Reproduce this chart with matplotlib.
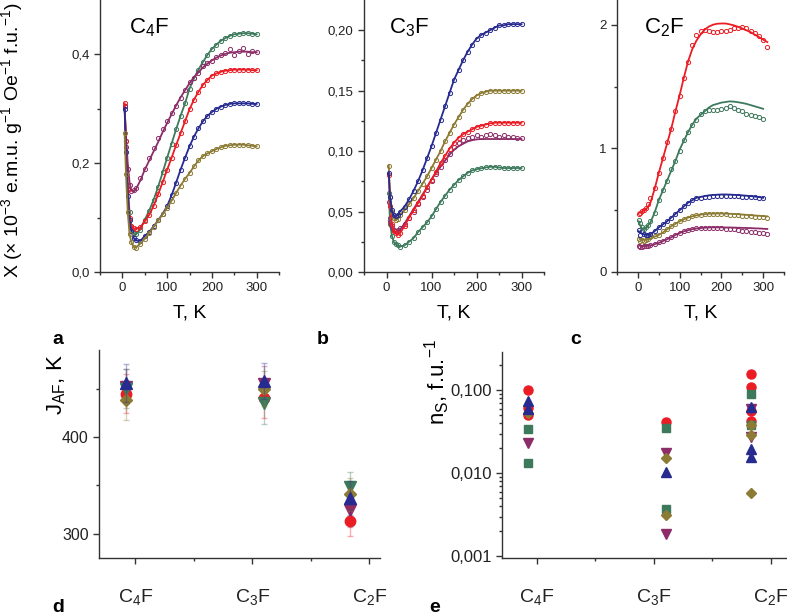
import numpy as np
import matplotlib
matplotlib.use("Agg")
import matplotlib.pyplot as plt
from matplotlib.ticker import LogLocator, NullFormatter

plt.rcParams['font.family'] = ['Liberation Sans', 'DejaVu Sans']
plt.rcParams['mathtext.fontset'] = 'custom'
plt.rcParams['mathtext.rm'] = 'Liberation Sans'
plt.rcParams['mathtext.it'] = 'Liberation Sans:italic'
plt.rcParams['mathtext.bf'] = 'Liberation Sans:bold'

# temperature grids (K)
T_ab = [5, 8, 12, 16, 20, 25, 30, 40, 50, 60, 70, 80, 90, 100, 110, 120, 130, 140,
        150, 160, 170, 180, 190, 200, 210, 220, 230, 240, 250, 260, 270, 280, 290, 300]
T_c = [2, 5, 10, 15, 20, 25, 30, 40, 50, 60, 70, 80, 90, 100, 110, 120, 130, 140,
       150, 160, 170, 180, 190, 200, 210, 220, 230, 240, 250, 260, 270, 280, 290, 300, 310]

# panel a: C4F
a_green = [0.305, 0.24, 0.16, 0.11, 0.085, 0.072, 0.069, 0.078, 0.096, 0.113, 0.133, 0.157, 0.183, 0.210,
           0.236, 0.262, 0.287, 0.310, 0.337, 0.356, 0.372, 0.386, 0.399, 0.410, 0.418, 0.425, 0.430,
           0.434, 0.437, 0.438, 0.439, 0.439, 0.438, 0.437]
a_purple = [0.300, 0.250, 0.200, 0.165, 0.150, 0.147, 0.152, 0.168, 0.188, 0.205, 0.222, 0.239, 0.257,
            0.274, 0.290, 0.306, 0.321, 0.334, 0.347, 0.358, 0.367, 0.376, 0.383, 0.389, 0.394, 0.398,
            0.401, 0.403, 0.404, 0.405, 0.405, 0.405, 0.404, 0.404]
a_purple_pts = [0.305, 0.230, 0.190, 0.160, 0.148, 0.150, 0.155, 0.172, 0.190, 0.210, 0.228, 0.247, 0.262,
                0.278, 0.292, 0.305, 0.320, 0.335, 0.350, 0.357, 0.365, 0.378, 0.384, 0.388, 0.396, 0.398,
                0.403, 0.410, 0.398, 0.407, 0.411, 0.400, 0.406, 0.404]
a_red = [0.310, 0.240, 0.150, 0.100, 0.085, 0.080, 0.079, 0.082, 0.093, 0.105, 0.122, 0.143, 0.165, 0.188,
         0.210, 0.233, 0.255, 0.277, 0.299, 0.317, 0.331, 0.344, 0.353, 0.361, 0.365, 0.368, 0.370,
         0.371, 0.372, 0.372, 0.372, 0.372, 0.371, 0.371]
a_blue = [0.300, 0.220, 0.140, 0.095, 0.075, 0.063, 0.058, 0.057, 0.066, 0.074, 0.084, 0.095, 0.107, 0.121,
          0.141, 0.164, 0.188, 0.210, 0.231, 0.249, 0.264, 0.277, 0.287, 0.294, 0.300, 0.304, 0.307,
          0.309, 0.310, 0.310, 0.310, 0.310, 0.309, 0.309]
a_olive = [0.255, 0.180, 0.110, 0.070, 0.055, 0.046, 0.045, 0.052, 0.061, 0.072, 0.083, 0.095, 0.106, 0.118,
           0.131, 0.145, 0.159, 0.171, 0.182, 0.194, 0.205, 0.213, 0.218, 0.222, 0.226, 0.229, 0.232,
           0.233, 0.234, 0.234, 0.234, 0.233, 0.232, 0.231]

# panel b: C3F
b_blue = [0.082, 0.062, 0.051, 0.047, 0.046, 0.047, 0.050, 0.054, 0.060, 0.067, 0.075, 0.084, 0.094, 0.104,
          0.115, 0.126, 0.137, 0.148, 0.159, 0.167, 0.175, 0.182, 0.188, 0.193, 0.196, 0.198, 0.200,
          0.202, 0.204, 0.204, 0.205, 0.205, 0.205, 0.205]
b_olive = [0.088, 0.062, 0.050, 0.045, 0.043, 0.044, 0.047, 0.051, 0.056, 0.061, 0.067, 0.073, 0.079, 0.086,
           0.093, 0.100, 0.108, 0.115, 0.122, 0.128, 0.134, 0.139, 0.143, 0.146, 0.148, 0.149, 0.150,
           0.150, 0.150, 0.150, 0.150, 0.150, 0.150, 0.150]
b_red = [0.080, 0.055, 0.040, 0.034, 0.032, 0.031, 0.032, 0.038, 0.045, 0.051, 0.057, 0.063, 0.070, 0.0765,
         0.083, 0.090, 0.096, 0.102, 0.107, 0.111, 0.114, 0.116, 0.118, 0.120, 0.121, 0.122, 0.123,
         0.1235, 0.1235, 0.1235, 0.1235, 0.1235, 0.1235, 0.1235]
b_purple = [0.042, 0.038, 0.035, 0.034, 0.033, 0.034, 0.035, 0.040, 0.046, 0.052, 0.058, 0.064, 0.070, 0.0765,
            0.082, 0.087, 0.092, 0.097, 0.101, 0.104, 0.106, 0.108, 0.109, 0.1097, 0.110, 0.110, 0.110,
            0.110, 0.110, 0.110, 0.110, 0.110, 0.110, 0.110]
b_purple_pts = [0.058, 0.045, 0.038, 0.035, 0.034, 0.035, 0.036, 0.040, 0.045, 0.050, 0.056, 0.062, 0.068,
                0.075, 0.081, 0.087, 0.093, 0.098, 0.103, 0.107, 0.109, 0.111, 0.112, 0.113, 0.112, 0.113,
                0.114, 0.113, 0.112, 0.113, 0.112, 0.112, 0.111, 0.111]
b_green = [0.065, 0.040, 0.030, 0.025, 0.023, 0.022, 0.021, 0.022, 0.025, 0.028, 0.033, 0.037, 0.041, 0.046,
           0.052, 0.058, 0.063, 0.068, 0.072, 0.076, 0.079, 0.082, 0.084, 0.085, 0.0858, 0.0865, 0.087,
           0.087, 0.0865, 0.086, 0.086, 0.086, 0.086, 0.086]

# panel c: C2F
nan = np.nan
c_red = [0.48, 0.48, 0.49, 0.50, 0.51, 0.53, 0.56, 0.67, 0.80, 0.92, 1.04, 1.16, 1.30, 1.43, 1.57, 1.70,
         1.80, 1.87, 1.92, 1.96, 1.985, 2.00, 2.008, 2.01, 2.01, 2.003, 1.995, 1.983, 1.97, 1.955, 1.94,
         1.92, 1.90, 1.88, 1.86]
c_red_pts = [0.47, 0.48, 0.49, 0.50, 0.52, 0.55, 0.60, 0.68, 0.80, 0.92, 1.05, 1.16, 1.30, 1.42, 1.57, 1.70,
             1.84, 1.92, 1.95, 1.96, 1.95, 1.94, 1.94, 1.95, 1.95, 1.96, 1.97, 1.97, 1.98, 1.97, 1.95,
             1.93, 1.91, 1.88, 1.82]
c_green = [0.41, 0.38, 0.35, 0.35, 0.36, 0.38, 0.40, 0.48, 0.58, 0.66, 0.74, 0.82, 0.90, 0.99, 1.06, 1.13,
           1.19, 1.24, 1.27, 1.30, 1.33, 1.35, 1.36, 1.37, 1.375, 1.38, 1.378, 1.373, 1.367, 1.36, 1.35,
           1.34, 1.33, 1.32, nan]
c_green_pts = [0.42, 0.40, 0.36, 0.35, 0.36, 0.38, 0.41, 0.48, 0.58, 0.66, 0.74, 0.83, 0.90, 0.98, 1.07, 1.13,
               1.19, 1.23, 1.28, 1.30, 1.31, 1.31, 1.31, 1.32, 1.33, 1.34, 1.33, 1.31, 1.30, 1.28, 1.27,
               1.26, 1.25, 1.24, nan]
c_blue = [0.33, 0.32, 0.31, 0.305, 0.30, 0.30, 0.305, 0.33, 0.36, 0.385, 0.41, 0.44, 0.47, 0.50, 0.53, 0.56,
          0.58, 0.60, 0.607, 0.614, 0.62, 0.623, 0.625, 0.627, 0.627, 0.626, 0.624, 0.622, 0.62, 0.617,
          0.614, 0.61, 0.606, 0.60, nan]
c_blue_pts = [0.34, 0.30, 0.33, 0.31, 0.30, 0.30, 0.31, 0.33, 0.36, 0.39, 0.41, 0.44, 0.47, 0.50, 0.53, 0.56,
              0.585, 0.595, 0.60, 0.605, 0.61, 0.612, 0.614, 0.615, 0.615, 0.614, 0.613, 0.612, 0.61,
              0.608, 0.606, 0.604, 0.602, 0.60, nan]
c_olive = [0.28, 0.27, 0.265, 0.26, 0.26, 0.265, 0.27, 0.285, 0.30, 0.32, 0.345, 0.37, 0.39, 0.41, 0.425,
           0.44, 0.45, 0.458, 0.464, 0.468, 0.471, 0.472, 0.473, 0.473, 0.472, 0.471, 0.469, 0.467, 0.465,
           0.462, 0.46, 0.457, 0.455, 0.452, 0.45]
c_olive_pts = [0.27, 0.25, 0.26, 0.25, 0.26, 0.27, 0.28, 0.29, 0.30, 0.33, 0.35, 0.37, 0.39, 0.41, 0.43,
               0.44, 0.45, 0.46, 0.465, 0.468, 0.47, 0.47, 0.47, 0.47, 0.468, 0.465, 0.462, 0.458, 0.455,
               0.452, 0.45, 0.447, 0.445, 0.443, 0.44]
c_purple = [0.22, 0.215, 0.21, 0.21, 0.21, 0.212, 0.215, 0.225, 0.235, 0.25, 0.265, 0.28, 0.30, 0.315, 0.328,
            0.338, 0.346, 0.352, 0.356, 0.358, 0.36, 0.361, 0.361, 0.361, 0.36, 0.36, 0.359, 0.358, 0.357,
            0.356, 0.355, 0.353, 0.352, 0.35, 0.348]
c_purple_pts = [0.21, 0.20, 0.205, 0.21, 0.21, 0.21, 0.215, 0.225, 0.24, 0.25, 0.27, 0.285, 0.30, 0.315, 0.33,
                0.34, 0.35, 0.355, 0.355, 0.355, 0.355, 0.355, 0.355, 0.355, 0.35, 0.348, 0.345, 0.34, 0.335,
                0.33, 0.325, 0.32, 0.318, 0.312, 0.305]

# panel d: J_AF (K) per compound [C4F, C3F, C2F], with errors
materials = ["C$_4$F", "C$_3$F", "C$_2$F"]
jaf_purple = [452, 455, 325]
jaf_purple_err = [18, 18, 18]
jaf_red = [445, 440, 313]
jaf_red_err = [20, 20, 15]
jaf_green = [450, 435, 348]
jaf_green_err = [20, 22, 16]
jaf_olive = [438, 450, 341]
jaf_olive_err = [20, 18, 17]
jaf_blue = [456, 458, 337]
jaf_blue_err = [20, 19, 18]

# panel e: n_S (f.u.^-1), several points per compound
ns_red = [[0.100, 0.062, 0.050], [0.042], [0.158, 0.109, 0.057, 0.043]]
ns_green = [[0.034, 0.0134], [0.035, 0.0037], [0.0895, 0.038]]
ns_purple = [[0.023], [0.0175, 0.00183], [0.059, 0.027]]
ns_olive = [[0.053], [0.0151, 0.0031], [0.038, 0.029, 0.0058]]
ns_blue = [[0.075, 0.060], [0.0103], [0.063, 0.0196, 0.0155]]

# tick labels
a_yticks = [0.0, 0.2, 0.4]
a_ylabels = ["0,0", "0,2", "0,4"]
b_yticks = [0.0, 0.05, 0.10, 0.15, 0.20]
b_ylabels = ["0,00", "0,05", "0,10", "0,15", "0,20"]
c_yticks = [0, 1, 2]
c_ylabels = ["0", "1", "2"]
T_ticks = [0, 100, 200, 300]
T_labels = ["0", "100", "200", "300"]
d_yticks = [300, 400]
d_ylabels = ["300", "400"]
e_yticks = [0.001, 0.01, 0.1]
e_ylabels = ["0,001", "0,010", "0,100"]

RED = "#ec1c24"
GREEN = "#3d7a5c"
BLUE = "#272b8f"
OLIVE = "#8c7b34"
PURPLE = "#8c2c68"
SPINE = "#333333"

W, H = 787, 614
fig = plt.figure(figsize=(W / 100, H / 100), dpi=100)


def box(l, t, r, b):
    return [l / W, 1 - b / H, (r - l) / W, (b - t) / H]


def style(ax, size=9.5):
    for s in ["top", "right"]:
        ax.spines[s].set_visible(False)
    for s in ["left", "bottom"]:
        ax.spines[s].set_color(SPINE)
        ax.spines[s].set_linewidth(1.0)
    ax.tick_params(which="major", direction="out", length=4, width=1, color=SPINE,
                   labelsize=size, labelcolor="#222222")
    ax.tick_params(which="minor", direction="out", length=2.5, width=1, color=SPINE)


ax_a = fig.add_axes(box(100, 0, 279, 272))
ax_b = fig.add_axes(box(364, 0, 544, 272))
ax_c = fig.add_axes(box(617, 0, 784, 272))
ax_d = fig.add_axes(box(99, 350, 380, 558))
ax_e = fig.add_axes(box(502, 352, 787, 558))

panels = [
    (ax_a, T_ab, [(a_green, a_green, GREEN), (a_purple, a_purple_pts, PURPLE), (a_red, a_red, RED),
                  (a_blue, a_blue, BLUE), (a_olive, a_olive, OLIVE)],
     0.5, a_yticks, a_ylabels, 0.1, "C$_4$F", 0.16),
    (ax_b, T_ab, [(b_green, b_green, GREEN), (b_purple, b_purple_pts, PURPLE), (b_red, b_red, RED),
                  (b_olive, b_olive, OLIVE), (b_blue, b_blue, BLUE)],
     0.225, b_yticks, b_ylabels, 0.025, "C$_3$F", 0.14),
    (ax_c, T_c, [(c_purple, c_purple_pts, PURPLE), (c_olive, c_olive_pts, OLIVE), (c_blue, c_blue_pts, BLUE),
                 (c_green, c_green_pts, GREEN), (c_red, c_red_pts, RED)],
     2.2, c_yticks, c_ylabels, 0.5, "C$_2$F", 0.16),
]

for ax, T, series, ytop, yt, yl, yminor, title, tx in panels:
    for fit, pts, col in series:
        ax.plot(T, pts, "o", ms=3.0, mfc="none", mec=col, mew=0.7)
        ax.plot(T, fit, "-", color=col, lw=1.3)
    ax.set_xlim(-50, 350)
    ax.set_ylim(0, ytop)
    ax.set_xticks(T_ticks, T_labels)
    ax.set_xticks([-50, 50, 150, 250, 350], minor=True)
    ax.set_yticks(yt, yl)
    ax.set_yticks(np.arange(yminor, ytop, yminor * 2), minor=True)
    style(ax)
    ax.set_xlabel("T, K", fontsize=14, labelpad=7)
    ax.text(tx, 0.9, title, transform=ax.transAxes, fontsize=16, va="center", ha="left")

fig.text(12 / W, 1 - 140 / H, "X (× 10$^{-3}$ e.m.u. g$^{-1}$ Oe$^{-1}$ f.u.$^{-1}$)",
         rotation=90, fontsize=14, ha="center", va="center")

# panel d
x_pos = [0.92, 2.10, 2.83]
d_series = [(jaf_purple, jaf_purple_err, PURPLE, "v", 8),
            (jaf_red, jaf_red_err, RED, "o", 7.5),
            (jaf_green, jaf_green_err, GREEN, "v", 8),
            (jaf_olive, jaf_olive_err, OLIVE, "D", 6.5),
            (jaf_blue, jaf_blue_err, BLUE, "^", 8)]
for vals, errs, col, mk, ms in d_series:
    ax_d.errorbar(x_pos, vals, yerr=errs, fmt="none", ecolor=col, alpha=0.35, elinewidth=1,
                  capsize=2.5, capthick=1)
    ax_d.plot(x_pos, vals, mk, color=col, ms=ms, mec=col)
ax_d.set_xlim(0.69, 3.09)
ax_d.set_ylim(275, 490)
ax_d.set_yticks(d_yticks, d_ylabels)
ax_d.set_yticks([350, 450], minor=True)
ax_d.set_xticks([1, 2, 3], materials)
ax_d.set_xticks([1.5, 2.5], minor=True)
style(ax_d, size=11.5)
ax_d.tick_params(axis="x", which="major", labelsize=14, pad=17)
fig.text(57 / W, 1 - 385 / H, "J$_{\\mathrm{AF}}$, K", rotation=90, fontsize=16, ha="center", va="center")

# panel e
e_series = [(ns_red, RED, "o", 6.5), (ns_green, GREEN, "s", 5.5), (ns_purple, PURPLE, "v", 7),
            (ns_olive, OLIVE, "D", 5.5), (ns_blue, BLUE, "^", 7)]
for groups, col, mk, ms in e_series:
    xs = [x_pos[i] for i, g in enumerate(groups) for _ in g]
    ys = [v for g in groups for v in g]
    ax_e.plot(xs, ys, mk, color=col, ms=ms, mec=col)
ax_e.set_yscale("log")
ax_e.set_xlim(0.7, 3.14)
ax_e.set_ylim(0.00095, 0.29)
ax_e.set_yticks(e_yticks, e_ylabels)
ax_e.yaxis.set_minor_locator(LogLocator(base=10, subs=range(2, 10)))
ax_e.yaxis.set_minor_formatter(NullFormatter())
ax_e.set_xticks([1, 2, 3], materials)
ax_e.set_xticks([1.5, 2.5], minor=True)
style(ax_e, size=12)
ax_e.tick_params(axis="x", which="major", labelsize=14, pad=17)
fig.text(437 / W, 1 - 382 / H, "n$_{\\mathrm{S}}$, f.u.$^{-1}$", rotation=90, fontsize=16,
         ha="center", va="center")

# panel letters
for lx, ly, letter in [(58, 340, "a"), (323, 340, "b"), (576, 340, "c"), (58, 607, "d"), (435, 607, "e")]:
    fig.text(lx / W, 1 - ly / H, letter, fontsize=14, fontweight="bold", ha="center", va="center")

fig.savefig("out.png", dpi=100)
